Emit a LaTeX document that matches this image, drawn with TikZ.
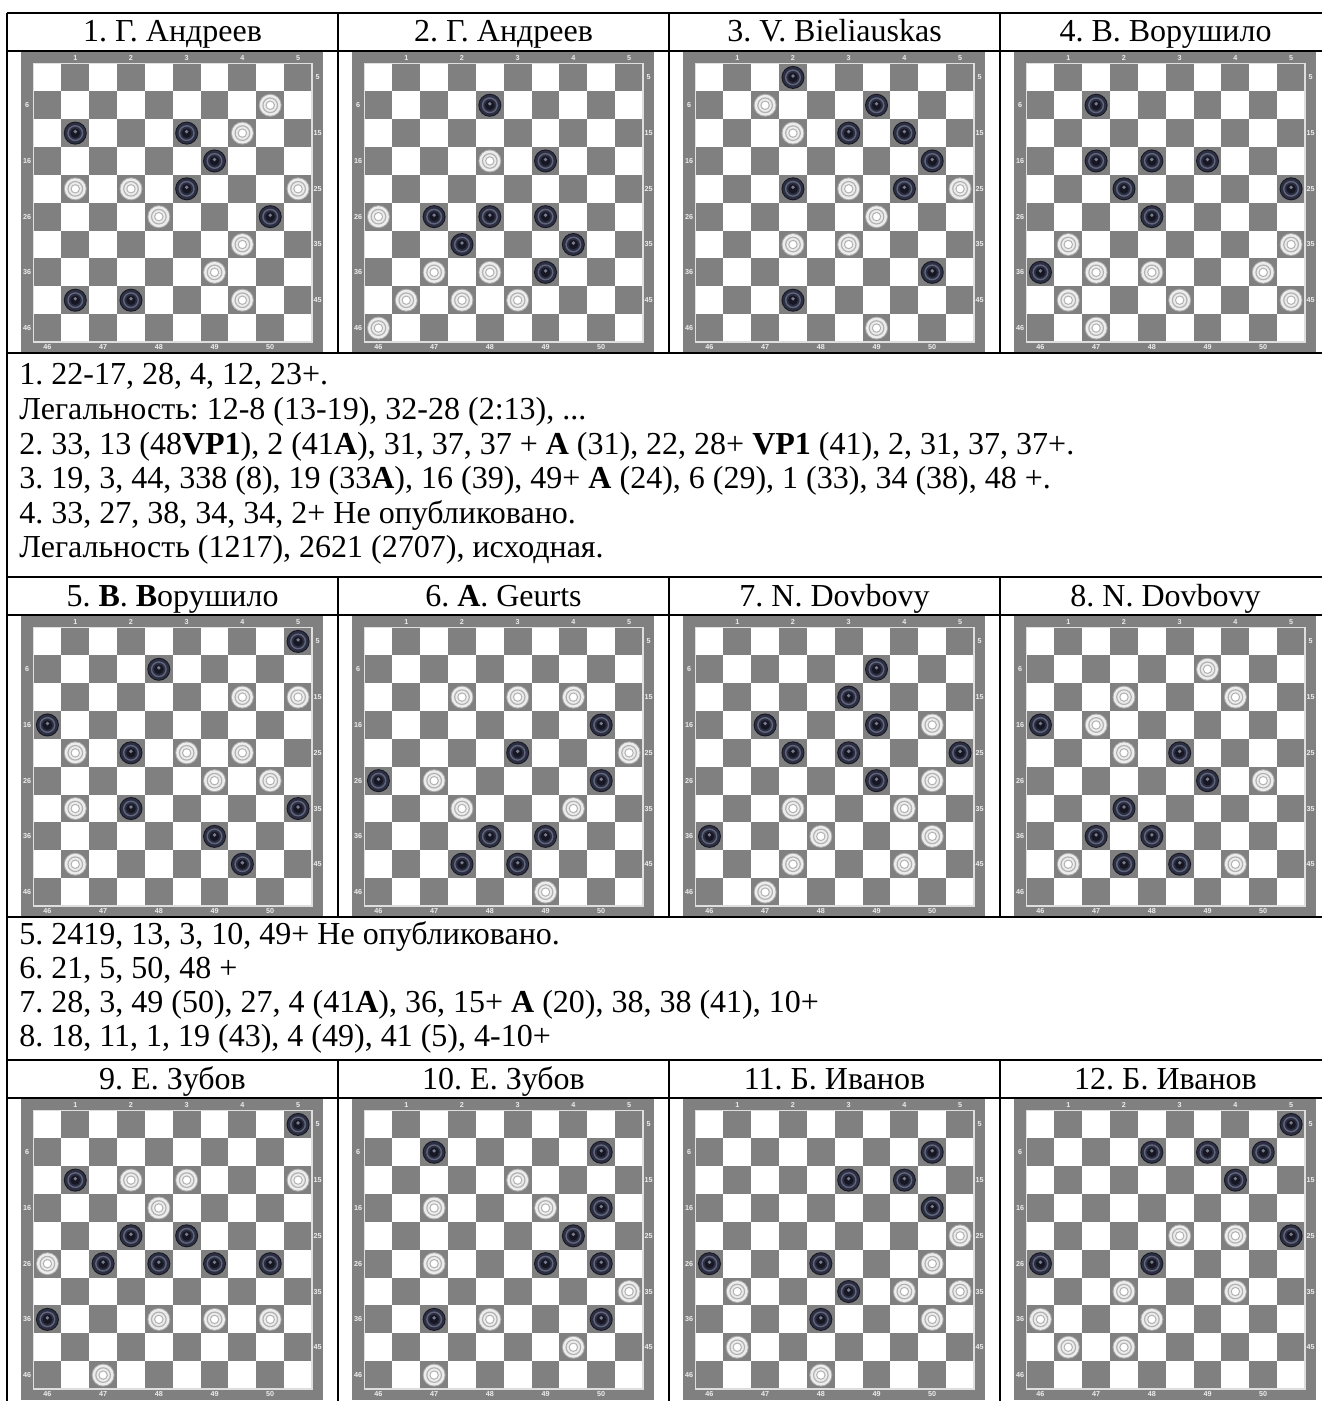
\documentclass[tikz,border=0pt]{standalone}
\usepackage{fontspec}
\setmainfont{Liberation Serif}
\newfontfamily\lblfont{Liberation Sans}
\frenchspacing
\usetikzlibrary{positioning}
\definecolor{boardgray}{RGB}{128,128,128}
\definecolor{gridlight}{RGB}{222,222,222}
\definecolor{boardlabel}{RGB}{236,236,236}
\definecolor{manedge}{RGB}{22,23,34}
\definecolor{manbody}{RGB}{44,47,66}
\definecolor{manring}{RGB}{98,102,124}
\definecolor{manshine}{RGB}{120,124,146}
\definecolor{wmanedge}{RGB}{168,168,168}
\definecolor{wmanbody}{RGB}{236,236,236}
\definecolor{wmanring}{RGB}{178,178,178}
\tikzset{
    tabline/.style={line width=0.9pt, black},
    headtxt/.style={anchor=base, inner sep=0pt, font=\fontsize{16}{19}\selectfont},
    soltxt/.style={anchor=base west, inner sep=0pt, font=\fontsize{16}{19}\selectfont},
    boardlbl/.style={inner sep=0pt, text=boardlabel, font=\lblfont\bfseries\fontsize{3.6}{4}\selectfont},
    darksq/.style={fill=boardgray},
    darkman/.pic={
        \fill[manedge] (0,0) circle[radius=11.5];
        \fill[manbody] (0,0) circle[radius=10.5];
        \draw[manring, line width=0.7pt] (0,0) circle[radius=7.3];
        \fill[manedge] (0,0) circle[radius=4.8];
        \fill[manshine] (0,-1.5) circle[radius=1.9];
    },
    whiteman/.pic={
        \fill[wmanedge] (0,0) circle[radius=11.5];
        \fill[wmanbody] (0,0) circle[radius=10.5];
        \draw[wmanring, line width=0.6pt] (0,0) circle[radius=7.3];
        \draw[wmanring, line width=0.5pt, fill=white] (0,0) circle[radius=4.2];
    },
}
% #1 name, #2 #3 top left corner, #4 black men, #5 white men
\newcommand{\drawboard}[5]{
\begin{scope}[shift={(#2,#3)}]
    \fill[boardgray] (0,0) rectangle (302,301);
    \fill[white] (12.5,11.5) rectangle ++(278.5,278.5);
    \foreach \r in {0,...,9}{
        \foreach \i in {0,...,4}{
            \pgfmathtruncatemacro\cc{2*\i+1-mod(\r,2)}
            \fill[darksq] ({12.5+\cc*27.85},{11.5+\r*27.85}) rectangle ++(27.85,27.85);
        }
    }
    \draw[gridlight, line width=0.7pt] (12.5,11.5) rectangle ++(278.5,278.5);
    \foreach \k in {1,...,5}{
        \node[boardlbl] (#1-top\k) at ({12.5+(2*\k-0.5)*27.85},5.8) {\k};
        \pgfmathtruncatemacro\lab{45+\k}
        \node[boardlbl] (#1-bot\k) at ({12.5+(2*\k-1.5)*27.85},295.5) {\lab};
    }
    \foreach \j in {0,...,4}{
        \pgfmathtruncatemacro\lab{10*\j+5}
        \node[boardlbl] (#1-right\j) at (296.5,{11.5+(2*\j+0.5)*27.85}) {\lab};
        \pgfmathtruncatemacro\lab{10*\j+6}
        \node[boardlbl] (#1-left\j) at (6.2,{11.5+(2*\j+1.5)*27.85}) {\lab};
    }
    \foreach \n in {#4}{
        \pgfmathtruncatemacro\rr{div(\n-1,5)}
        \pgfmathtruncatemacro\cc{2*mod(\n-1,5)+1-mod(\rr,2)}
        \pic at ({12.5+(\cc+0.5)*27.85},{11.5+(\rr+0.5)*27.85}) {darkman};
    }
    \foreach \n in {#5}{
        \pgfmathtruncatemacro\rr{div(\n-1,5)}
        \pgfmathtruncatemacro\cc{2*mod(\n-1,5)+1-mod(\rr,2)}
        \pic at ({12.5+(\cc+0.5)*27.85},{11.5+(\rr+0.5)*27.85}) {whiteman};
    }
\end{scope}
}

\begin{document}
\begin{tikzpicture}[x=0.5pt, y=-0.5pt]
\clip (0,0) rectangle (1322,1401);
\fill[white] (0,0) rectangle (1322,1401);

% headers
\node[headtxt] (head1) at (172.5,42) {1. Г. Андреев};
\node[headtxt] (head2) at (503.5,42) {2. Г. Андреев};
\node[headtxt] (head3) at (834.5,42) {3. V. Bieliauskas};
\node[headtxt] (head4) at (1165.5,42) {4. В. Ворушило};
\node[headtxt] (head5) at (172.5,606) {5. \textbf{В}. \textbf{В}орушило};
\node[headtxt] (head6) at (503.5,606) {6. \textbf{А}. Geurts};
\node[headtxt] (head7) at (834.5,606) {7. N. Dovbovy};
\node[headtxt] (head8) at (1165.5,606) {8. N. Dovbovy};
\node[headtxt] (head9) at (172.5,1089) {9. Е. Зубов};
\node[headtxt] (head10) at (503.5,1089) {10. Е. Зубов};
\node[headtxt] (head11) at (834.5,1089) {11. Б. Иванов};
\node[headtxt] (head12) at (1165.5,1089) {12. Б. Иванов};

% boards
\drawboard{b1}{21}{52}{11,13,19,23,30,41,42}{10,14,21,22,25,28,34,39,44}
\drawboard{b2}{352}{52}{8,19,27,28,29,32,34,39}{18,26,37,38,41,42,43,46}
\drawboard{b3}{683}{52}{2,9,13,14,20,22,24,40,42}{7,12,23,25,29,32,33,49}
\drawboard{b4}{1014}{52}{7,17,18,19,22,25,28,36}{31,35,37,38,40,41,43,45,47}
\drawboard{b5}{21}{616}{5,8,16,22,32,35,39,44}{14,15,21,23,24,29,30,31,41}
\drawboard{b6}{352}{616}{20,23,26,30,38,39,42,43}{12,13,14,25,27,32,34,49}
\drawboard{b7}{683}{616}{9,13,17,19,22,23,25,29,36}{20,30,32,34,38,40,42,44,47}
\drawboard{b8}{1014}{616}{16,23,29,32,37,38,42,43}{9,12,14,17,22,30,41,44}
\drawboard{b9}{21}{1099}{5,11,22,23,27,28,29,30,36}{12,13,15,18,26,38,39,40,47}
\drawboard{b10}{352}{1099}{7,10,20,24,29,30,37,40}{13,17,19,27,35,38,44,47}
\drawboard{b11}{683}{1099}{10,13,14,20,26,28,33,38}{25,30,31,34,35,40,41,48}
\drawboard{b12}{1014}{1099}{5,8,9,10,14,25,26,28}{23,24,32,34,36,38,41,42}

% solutions
\node[soltxt] (sol1) at (19,385) {1. 22-17, 28, 4, 12, 23+.};
\node[soltxt] (sol1b) at (19,419.5) {Легальность: 12-8 (13-19), 32-28 (2:13), ...};
\node[soltxt] (sol2) at (19,454) {2. 33, 13 (48\textbf{VP1}), 2 (41\textbf{A}), 31, 37, 37 + \textbf{A} (31), 22, 28+ \textbf{VP1} (41), 2, 31, 37, 37+.};
\node[soltxt] (sol3) at (19,488.5) {3. 19, 3, 44, 338 (8), 19 (33\textbf{A}), 16 (39), 49+ \textbf{A} (24), 6 (29), 1 (33), 34 (38), 48 +.};
\node[soltxt] (sol4) at (19,523) {4. 33, 27, 38, 34, 34, 2+ Не опубликовано.};
\node[soltxt] (sol4b) at (19,557.5) {Легальность (1217), 2621 (2707), исходная.};
\node[soltxt] (sol5) at (19,944) {5. 2419, 13, 3, 10, 49+ Не опубликовано.};
\node[soltxt] (sol6) at (19,978) {6. 21, 5, 50, 48 +};
\node[soltxt] (sol7) at (19,1012) {7. 28, 3, 49 (50), 27, 4 (41\textbf{A}), 36, 15+ \textbf{A} (20), 38, 38 (41), 10+};
\node[soltxt] (sol8) at (19,1046) {8. 18, 11, 1, 19 (43), 4 (49), 41 (5), 4-10+};

% table rules
\foreach \y in {13,51,353,577,615,917,1060,1098}
    \draw[tabline] (7,\y) -- (1322,\y);
\draw[tabline] (7,13) -- (7,1401);
\foreach \x in {338,669,1000}{
    \draw[tabline] (\x,13) -- (\x,353);
    \draw[tabline] (\x,577) -- (\x,917);
    \draw[tabline] (\x,1060) -- (\x,1401);
}
\end{tikzpicture}
\end{document}
